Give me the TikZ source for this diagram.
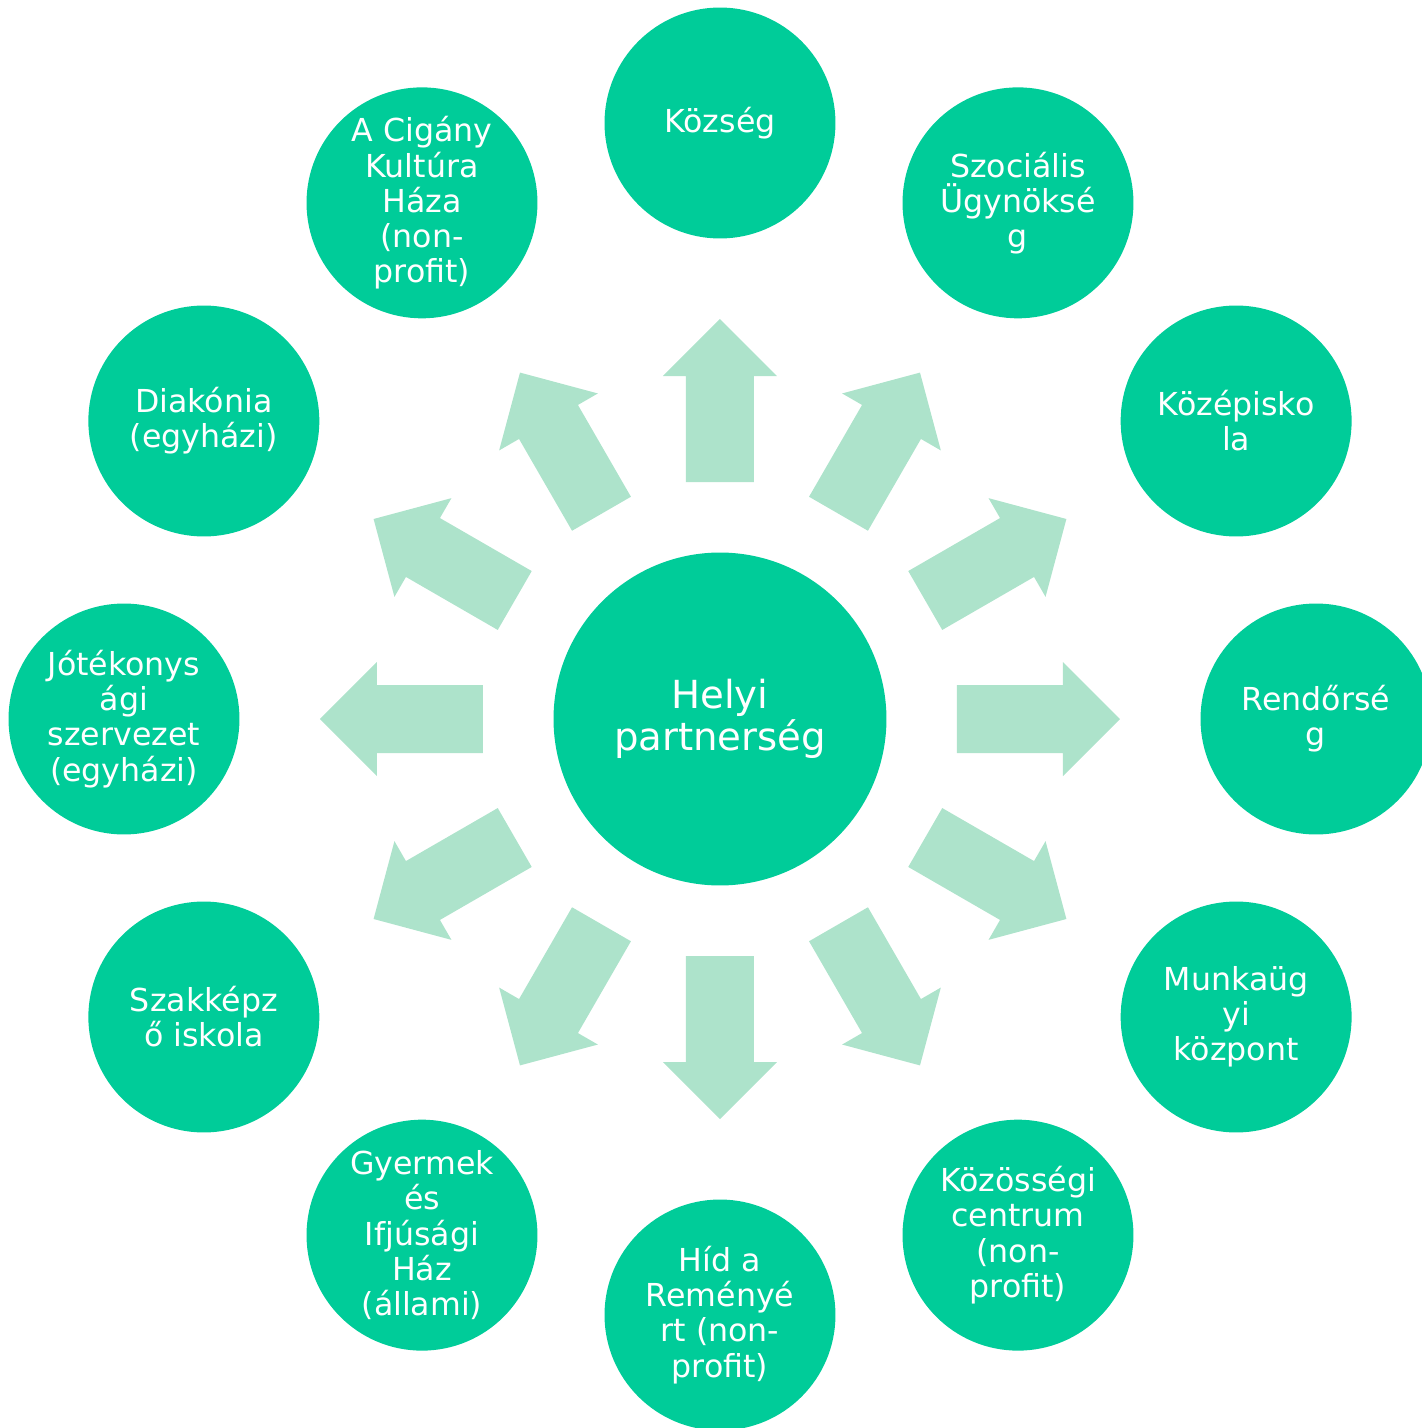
\documentclass[tikz,border=0pt]{standalone}
\usepackage{fontspec}
\setmainfont{DejaVu Sans}
\usepackage{tikz}
\usetikzlibrary{positioning}
\usepackage{xcolor}

\definecolor{hubgreen}{RGB}{0,204,153}
\definecolor{arrowgreen}{RGB}{173,227,203}

\tikzset{
partner/.style={circle, fill=hubgreen, text=white, align=center, inner sep=0pt, minimum size=4.62cm, font=\fontsize{18}{20}\selectfont},
hub/.style={circle, fill=hubgreen, text=white, align=center, inner sep=0pt, minimum size=6.66cm, font=\fontsize{22}{24}\selectfont},
blockarrow/.style={fill=arrowgreen, draw=none}
}

\begin{document}
\begin{tikzpicture}[x=0.02cm, y=0.02cm]

\useasboundingbox (-720,-709) rectangle (702,719);
\clip (-720,-709) rectangle (702,719);

%central node%
\node[hub] (hub) at (0,0) {Helyi\\partnerség};

%block arrows%
\foreach \a in {0,30,...,330} \fill[blockarrow, rotate=\a] 
(237,-34)--(343,-34)--(343,-57)--(400,0)--(343,57)--(343,34)--(237,34)--cycle;

%partners, every 30 degrees%
\node[partner] (kozseg) at (90:596) {Község};
\node[partner] (szocialis) at (60:596) {Szociális\\Ügynöksé\\g};
\node[partner] (kozepiskola) at (30:596) {Középisko\\la};
\node[partner] (rendorseg) at (0:596) {Rendőrsé\\g};
\node[partner] (munkaugy) at (-30:596) {Munkaüg\\yi\\központ};
\node[partner] (kozosseg) at (-60:596) {Közösségi\\centrum\\(non-\\profit)};
\node[partner] (hid) at (-90:596) {Híd a\\Reményé\\rt (non-\\profit)};
\node[partner] (gyermek) at (-120:596) {Gyermek\\és\\Ifjúsági\\Ház\\(állami)};
\node[partner] (szakkepzo) at (-150:596) {Szakképz\\ő iskola};
\node[partner] (jotekony) at (180:596) {Jótékonys\\ági\\szervezet\\(egyházi)};
\node[partner] (diakonia) at (150:596) {Diakónia\\(egyházi)};
\node[partner] (cigany) at (120:596) {A Cigány\\Kultúra\\Háza\\(non-\\profit)};

\end{tikzpicture}
\end{document}
